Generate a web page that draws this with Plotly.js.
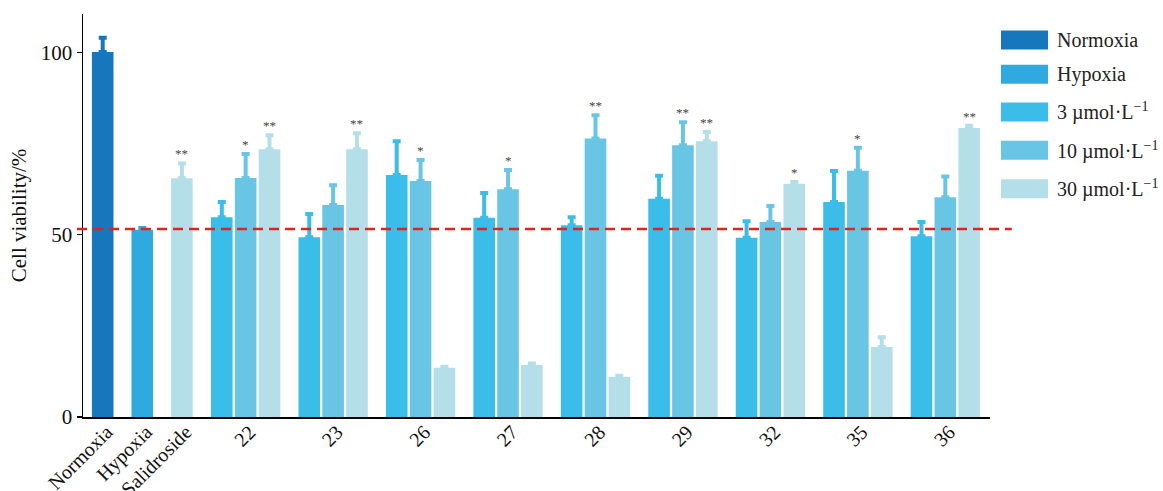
<!DOCTYPE html>
<html><head><meta charset="utf-8">
<script src="https://cdn.plot.ly/plotly-3.0.1.min.js"></script>
<style>html,body{margin:0;padding:0;background:#fff}#chart{width:1163px;height:491px}</style>
</head><body><div id="chart"></div>
<script>
const controlLabels = ['Normoxia', 'Hypoxia', 'Salidroside'];
const controlValues = [100.2, 51.4, 65.5];
const controlErrors = [3.9, 0.5, 4.1];
const controlStars = ['', '', '**'];
const compoundLabels = ['22', '23', '26', '27', '28', '29', '32', '35', '36'];
const dose3Values = [54.8, 49.3, 66.4, 54.7, 52.6, 59.9, 49.2, 59.0, 49.6];
const dose3Errors = [4.2, 6.4, 9.3, 6.8, 2.2, 6.3, 4.5, 8.5, 3.9];
const dose3Stars = ['', '', '', '', '', '', '', '', ''];
const dose10Values = [65.6, 58.2, 64.8, 62.5, 76.4, 74.6, 53.5, 67.6, 60.3];
const dose10Errors = [6.6, 5.4, 5.7, 5.3, 6.4, 6.3, 4.4, 6.3, 5.7];
const dose10Stars = ['*', '', '*', '*', '**', '**', '', '*', ''];
const dose30Values = [73.5, 73.5, 13.5, 14.3, 11.0, 75.7, 64.0, 19.2, 79.3];
const dose30Errors = [3.8, 4.4, 0.3, 0.4, 0.3, 2.5, 0.5, 2.7, 0.6];
const dose30Stars = ['**', '**', '', '', '', '**', '*', '', '**'];
const legendLabels = ['Normoxia', 'Hypoxia', '3 µmol·L<sup>−1</sup>', '10 µmol·L<sup>−1</sup>', '30 µmol·L<sup>−1</sup>'];
const hypoxiaLevel = 51.6;
const yTicks = [0, 50, 100];

const colors = ['#1777BC', '#30A9E0', '#3BBDEA', '#69C5E4', '#B4DFE8'];
const FONT = 'Liberation Serif';

// layout positions (axis units = pixels along plot width)
const singlePos = i => 19.7 + i * 39.6;
const groupPos = (k, j) => 138.8 + k * 87.46 + j * 23.85;
const BW = 21.6;

function barTrace(x, y, err, color) {
  return {
    type: 'bar', x: x, y: y, width: BW,
    marker: {color: color, line: {width: 0}},
    error_y: {type: 'data', array: err, arrayminus: err.map(() => 0), symmetric: false,
              color: color, thickness: 4, width: 4},
    showlegend: false, hoverinfo: 'skip'
  };
}

const traces = [];
traces.push(barTrace([singlePos(0)], [controlValues[0]], [controlErrors[0]], colors[0]));
traces.push(barTrace([singlePos(1)], [controlValues[1]], [controlErrors[1]], colors[1]));
traces.push(barTrace([singlePos(2)], [controlValues[2]], [controlErrors[2]], colors[4]));
const doseSets = [[dose3Values, dose3Errors, dose3Stars], [dose10Values, dose10Errors, dose10Stars], [dose30Values, dose30Errors, dose30Stars]];
doseSets.forEach((s, j) => {
  traces.push(barTrace(compoundLabels.map((_, k) => groupPos(k, j)), s[0], s[1], colors[2 + j]));
});

const annotations = [];
function star(x, y, t) {
  if (!t) return;
  annotations.push({x: x, y: y, xref: 'x', yref: 'y', text: t, showarrow: false,
    yanchor: 'bottom', yshift: 0, font: {family: FONT, size: 13, color: '#444'}});
}
controlLabels.forEach((_, i) => star(singlePos(i), controlValues[i] + controlErrors[i], controlStars[i]));
doseSets.forEach((s, j) => compoundLabels.forEach((_, k) => star(groupPos(k, j), s[0][k] + s[1][k], s[2][k])));

const shapes = [{type: 'line', xref: 'paper', yref: 'y', x0: -0.0066, x1: 1.024, y0: hypoxiaLevel, y1: hypoxiaLevel,
  line: {color: '#E4211F', width: 2.5, dash: '10px,6px'}}];

// manual legend
const PW = 907, PH = 403, L = 83, T = 14;
const legendY = [40, 74.3, 112, 150.3, 188.8];
legendLabels.forEach((lab, i) => {
  const yc = legendY[i];
  shapes.push({type: 'rect', xref: 'paper', yref: 'paper',
    x0: (1001 - L) / PW, x1: (1048 - L) / PW,
    y0: (T + PH - (yc + 9.5)) / PH, y1: (T + PH - (yc - 9.5)) / PH,
    fillcolor: colors[i], line: {width: 0}});
  annotations.push({xref: 'paper', yref: 'paper', x: (1055 - L) / PW, y: (T + PH - yc) / PH,
    xanchor: 'left', yanchor: 'middle', text: lab, showarrow: false,
    font: {family: FONT, size: 20, color: '#222'}});
});

const tickvals = controlLabels.map((_, i) => singlePos(i)).concat(compoundLabels.map((_, k) => groupPos(k, 1)));
const ticktext = controlLabels.concat(compoundLabels);

const layout = {
  width: 1163, height: 491,
  margin: {l: L, r: 1163 - L - PW, t: T, b: 491 - T - PH},
  paper_bgcolor: '#fff', plot_bgcolor: '#fff',
  barmode: 'overlay',
  font: {family: FONT, size: 21, color: '#111'},
  xaxis: {range: [0, PW], tickvals: tickvals, ticktext: ticktext, tickangle: -45,
    showline: true, linecolor: '#000', linewidth: 1.5, ticks: '', showgrid: false, zeroline: false,
    ticklabelshift: 4, ticklabelstandoff: -6,
    tickfont: {family: FONT, size: 20, color: '#111'}, automargin: false, fixedrange: true},
  yaxis: {range: [0, 110.6], tickvals: yTicks, ticks: 'outside', ticklen: 5, tickwidth: 1.2, tickcolor: '#000',
    showline: true, linecolor: '#000', linewidth: 1.5, showgrid: false, zeroline: false,
    tickfont: {family: FONT, size: 21, color: '#111'}, automargin: false,
    title: {text: 'Cell viability/%', font: {family: FONT, size: 21, color: '#111'}, standoff: 8}},
  shapes: shapes, annotations: annotations, showlegend: false
};

Plotly.newPlot('chart', traces, layout, {displayModeBar: false, staticPlot: true});
</script>
</body></html>
